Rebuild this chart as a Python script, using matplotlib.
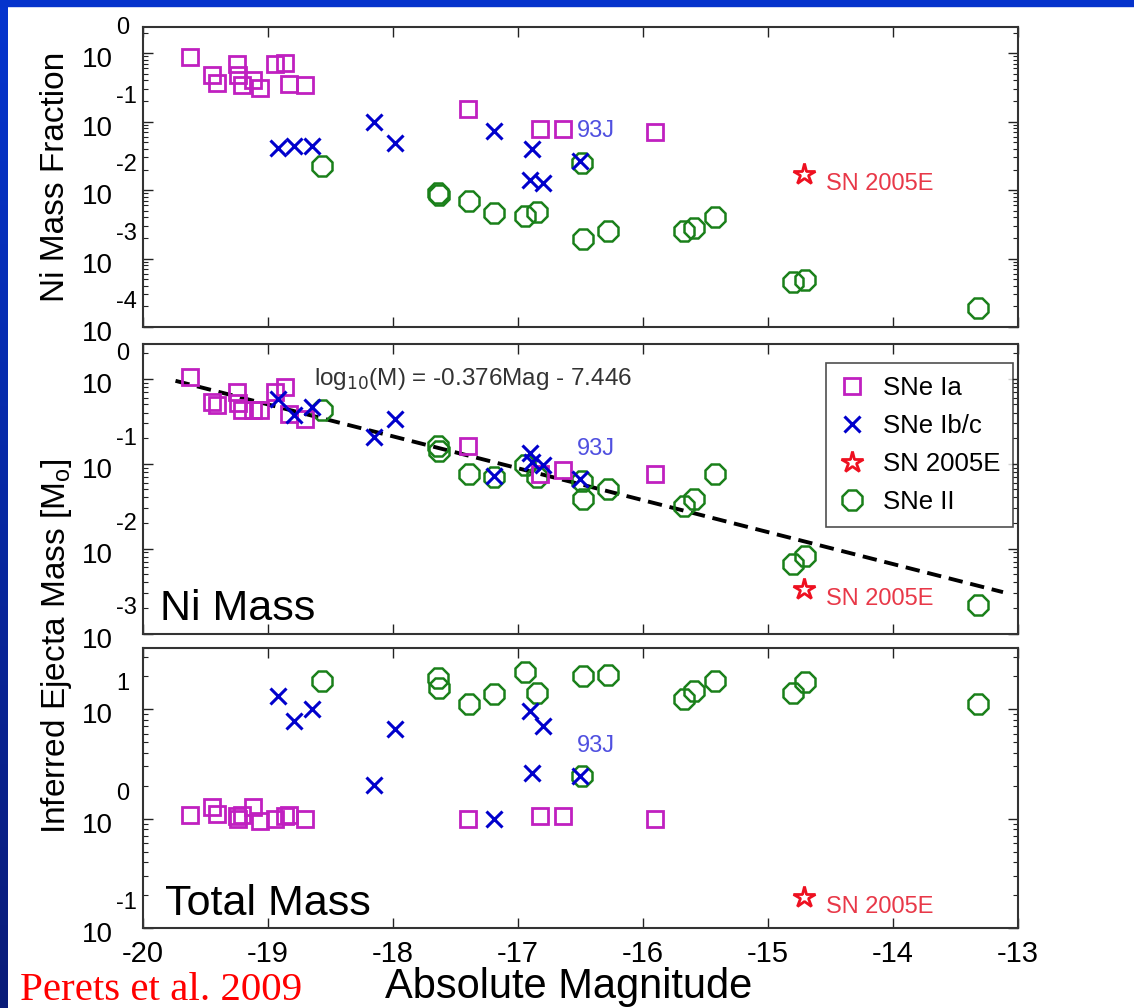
import numpy as np
import matplotlib
matplotlib.use("Agg")
import matplotlib.pyplot as plt
from matplotlib.ticker import LogLocator, NullFormatter
from matplotlib.patches import Rectangle

# absolute magnitudes, shared by the three panels
ia_mag = [-19.62, -19.45, -19.41, -19.25, -19.24, -19.21, -19.12, -19.06,
          -18.94, -18.86, -18.83, -18.70, -17.40, -16.82, -16.64, -15.90]
ibc_mag = [-18.92, -18.79, -18.65, -18.15, -17.98, -17.19, -16.90, -16.89, -16.80, -16.50]
ii_mag = [-18.57, -17.64, -17.63, -17.39, -17.19, -16.94, -16.85, -16.49,
          -16.48, -16.28, -15.67, -15.59, -15.42, -14.80, -14.70, -13.32]
e05_mag = [-14.71]

# Ni mass fraction
ia_frac = [0.891, 0.479, 0.363, 0.692, 0.479, 0.347, 0.407, 0.309,
           0.692, 0.708, 0.355, 0.347, 0.155, 0.0794, 0.0794, 0.0708]
ibc_frac = [0.0412, 0.0437, 0.0437, 0.100, 0.0490, 0.0724, 0.0141, 0.0398, 0.0126, 0.0263]
ii_frac = [0.0224, 0.00912, 0.00851, 0.00692, 0.00468, 0.00417, 0.00479, 0.0251,
           0.00191, 0.00251, 0.00251, 0.00275, 0.00398, 0.000457, 0.000490, 0.000191]
e05_frac = [0.0170]

# Ni mass [Msun]
ia_ni = [1.05, 0.531, 0.490, 0.692, 0.513, 0.427, 0.427, 0.427,
         0.692, 0.794, 0.389, 0.339, 0.162, 0.0759, 0.0832, 0.0759]
ibc_ni = [0.575, 0.372, 0.468, 0.204, 0.339, 0.0724, 0.135, 0.105, 0.0955, 0.0661]
ii_ni = [0.427, 0.162, 0.141, 0.0759, 0.0692, 0.0955, 0.0692, 0.0631,
         0.0380, 0.0501, 0.0316, 0.0380, 0.0759, 0.00661, 0.00813, 0.00219]
e05_ni = [0.00331]

# total ejecta mass [Msun]
ia_tot = [1.07, 1.29, 1.10, 1.05, 1.00, 1.07, 1.29, 0.955,
          1.00, 1.05, 1.07, 1.00, 1.00, 1.05, 1.05, 1.00]
ibc_tot = [13.2, 7.76, 10.0, 2.04, 6.61, 1.00, 9.66, 2.60, 7.08, 2.43]
ii_tot = [18.2, 19.5, 15.8, 11.2, 13.8, 21.9, 14.1, 2.43,
          20.0, 20.4, 12.3, 14.8, 18.2, 14.1, 17.8, 11.2]
e05_tot = [0.191]

# fit shown in the Ni mass panel
fit_slope, fit_icpt = -0.376, -7.446
fit_mag = np.array([-19.74, -13.12])

mag_ticks = [-20, -19, -18, -17, -16, -15, -14, -13]

C_IA, C_IBC, C_II, C_05E = "#c020c0", "#0000cc", "#1a801a", "#ee1020"
plt.rcParams["font.family"] = ["Liberation Sans", "DejaVu Sans"]
plt.rcParams["axes.unicode_minus"] = False

W, H = 1134, 1008
fig = plt.figure(figsize=(W / 100, H / 100), dpi=100)
fig.patch.set_facecolor("white")

# blue slide frame
strip = fig.add_axes([0, 0, 8 / W, 1])
strip.imshow(np.linspace(0, 1, 256)[:, None], aspect="auto",
             cmap=matplotlib.colors.LinearSegmentedColormap.from_list("b", ["#0535cf", "#0a1c78"]))
strip.axis("off")
fig.patches.append(Rectangle((0, 1 - 6 / H), 1, 6 / H, transform=fig.transFigure,
                             color="#0533cc", zorder=5))


def make_axes(top, bottom):
    return fig.add_axes([143 / W, 1 - bottom / H, 875 / W, (bottom - top) / H])


def style(ax, ylim, exps):
    ax.set_yscale("log")
    ax.set_xlim(-20, -13)
    ax.set_xticks(mag_ticks)
    ax.set_yticks([10.0 ** e for e in exps])
    ax.yaxis.set_minor_locator(LogLocator(base=10, subs=np.arange(2, 10), numticks=20))
    ax.yaxis.set_minor_formatter(NullFormatter())
    ax.set_yticklabels([])
    ax.set_ylim(*ylim)
    ax.tick_params(which="both", direction="in", top=True, right=True, color="#222222")
    ax.tick_params(which="major", length=7, width=1)
    ax.tick_params(which="minor", length=3.5, width=0.8)
    ax.tick_params(axis="x", labelbottom=False)
    for sp in ax.spines.values():
        sp.set_linewidth(1.5)
        sp.set_color("#333333")
    tr = ax.get_yaxis_transform()
    for e in exps:
        ax.annotate("10", (0, 10.0 ** e), xycoords=tr, xytext=(-30, -7),
                    textcoords="offset pixels", ha="right", va="center", fontsize=20)
        ax.annotate(str(e), (0, 10.0 ** e), xycoords=tr, xytext=(-27, 25),
                    textcoords="offset pixels", ha="left", va="center", fontsize=17)


def draw(ax, ia, ibc, ii, e05):
    h_ii, = ax.plot(ii_mag, ii, ls="none", marker="8", ms=15.5, mfc="none", mec=C_II, mew=1.8)
    h_ia, = ax.plot(ia_mag, ia, ls="none", marker="s", ms=12, mfc="none", mec=C_IA, mew=2)
    h_ibc, = ax.plot(ibc_mag, ibc, ls="none", marker="x", ms=12, mec=C_IBC, mew=2.2)
    h_e, = ax.plot(e05_mag, e05, ls="none", marker="*", ms=16, mfc="white", mec=C_05E, mew=2)
    ax.annotate("SN 2005E", (e05_mag[0], e05[0]), xytext=(22, -10), textcoords="offset pixels",
                ha="left", va="center", color="#e83848", fontsize=17)
    ax.annotate("93J", (ibc_mag[-1], ibc[-1]), xytext=(-4, 30), textcoords="offset pixels",
                ha="left", va="center", color="#5050e0", fontsize=17)
    return h_ia, h_ibc, h_e, h_ii


ax_frac = make_axes(27, 327)
ax_ni = make_axes(344, 633.5)
ax_tot = make_axes(648, 928)

draw(ax_frac, ia_frac, ibc_frac, ii_frac, e05_frac)
style(ax_frac, (1e-4, 10 ** 0.383), [0, -1, -2, -3, -4])
ax_frac.text(-0.1, 0.5, "Ni Mass Fraction", transform=ax_frac.transAxes, rotation=90,
             ha="center", va="center", fontsize=24)

handles = draw(ax_ni, ia_ni, ibc_ni, ii_ni, e05_ni)
ax_ni.plot(fit_mag, 10.0 ** (fit_slope * fit_mag + fit_icpt), color="black", lw=2.8,
           dashes=(3.7, 2.0), zorder=1)
style(ax_ni, (1e-3, 10 ** 0.41), [0, -1, -2, -3])
ax_ni.text(0.195, 0.88, r"log$_{10}$(M) = -0.376Mag - 7.446", transform=ax_ni.transAxes,
           ha="left", va="center", fontsize=17.5, color="#333333")
ax_ni.text(0.02, 0.047, "Ni Mass", transform=ax_ni.transAxes, ha="left", va="baseline",
           fontsize=31)
leg = ax_ni.legend(handles, ["SNe Ia", "SNe Ib/c", "SN 2005E", "SNe II"], loc="upper right",
                   bbox_to_anchor=(0.9943, 0.934), borderaxespad=0, fontsize=18.5,
                   frameon=True, fancybox=False, edgecolor="#222222", handlelength=1.0,
                   handletextpad=0.7, labelspacing=0.55, borderpad=0.5)
leg.get_frame().set_linewidth(1.2)

draw(ax_tot, ia_tot, ibc_tot, ii_tot, e05_tot)
style(ax_tot, (0.1, 10 ** 1.56), [1, 0, -1])
ax_tot.text(0.025, 0.046, "Total Mass", transform=ax_tot.transAxes, ha="left",
            va="baseline", fontsize=31)
ax_tot.tick_params(axis="x", labelbottom=True, labelsize=21, pad=9)

fig.text(57 / W, 1 - 646 / H, r"Inferred Ejecta Mass [M$_\mathregular{o}$]", rotation=90,
         ha="center", va="center", fontsize=24)
fig.text(569 / W, 10 / H, "Absolute Magnitude", ha="center", va="baseline", fontsize=30)
fig.text(20 / W, 8 / H, "Perets et al. 2009", ha="left", va="baseline", fontsize=29.5,
         color="#ff0000", family=["Liberation Serif", "DejaVu Serif"])

fig.savefig("out.png", dpi=100)
